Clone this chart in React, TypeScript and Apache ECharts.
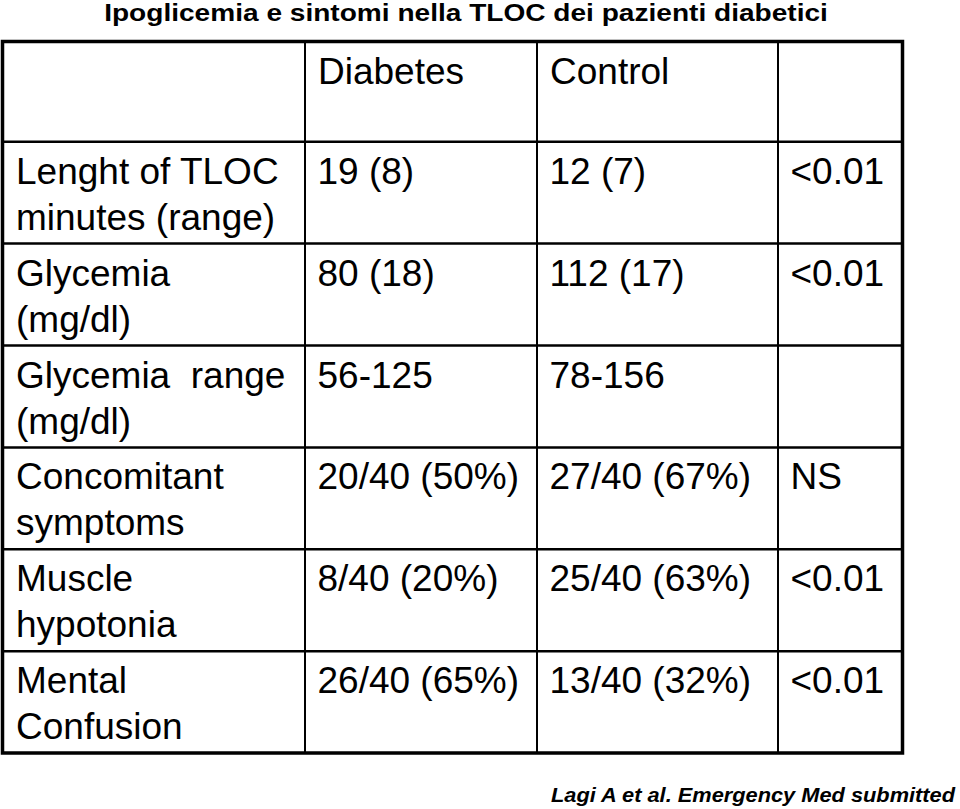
import React, { useEffect, useRef } from "react";
import * as echarts from "echarts";

const titleText = "Ipoglicemia e sintomi nella TLOC dei pazienti diabetici";
const footnote = "Lagi A et al. Emergency Med submitted";
const headers = ["", "Diabetes", "Control", ""];
const rowLabels = [
  ["Lenght of TLOC", "minutes (range)"],
  ["Glycemia", "(mg/dl)"],
  ["Glycemia  range", "(mg/dl)"],
  ["Concomitant", "symptoms"],
  ["Muscle", "hypotonia"],
  ["Mental", "Confusion"],
];
const diabetesValues = ["19 (8)", "80 (18)", "56-125", "20/40 (50%)", "8/40 (20%)", "26/40 (65%)"];
const controlValues = ["12 (7)", "112 (17)", "78-156", "27/40 (67%)", "25/40 (63%)", "13/40 (32%)"];
const pValues = ["<0.01", "<0.01", "", "NS", "<0.01", "<0.01"];

// layout
const colEdges = [2.5, 305, 537, 778, 902.5];
const tableTop = 41.5;
const headerBottom = 141.7;
const rowH = 101.9;
const FONT = "Liberation Sans, Arial, Helvetica, sans-serif";
const FS = 37;

export default function App() {
  const ref = useRef<HTMLDivElement>(null);
  useEffect(() => {
    if (!ref.current) return;
    const chart = echarts.init(ref.current, null, { renderer: "svg" });
    const elements: any[] = [];
    const nRows = rowLabels.length;
    const rowEdges = [tableTop, headerBottom];
    for (let i = 1; i <= nRows; i++) rowEdges.push(headerBottom + rowH * i);
    const tableBottom = rowEdges[rowEdges.length - 1];

    const txt = (x: number, y: number, s: string) => ({
      type: "text",
      x,
      y,
      style: {
        text: s,
        fill: "#000",
        font: `${FS}px ${FONT}`,
        textAlign: "left",
        textVerticalAlign: "middle",
      },
    });

    // header
    headers.forEach((h, c) => {
      if (h) elements.push(txt(colEdges[c] + 13, tableTop + 30, h));
    });
    // rows
    for (let r = 0; r < nRows; r++) {
      const top = rowEdges[r + 1];
      rowLabels[r].forEach((line, k) => elements.push(txt(colEdges[0] + 13.5, top + 29.5 + k * 46, line)));
      const cells = [diabetesValues[r], controlValues[r], pValues[r]];
      cells.forEach((v, c) => {
        if (v) elements.push(txt(colEdges[c + 1] + 12.5, top + 29.5, v));
      });
    }
    // inner horizontal lines
    for (let i = 1; i < rowEdges.length - 1; i++) {
      elements.push({
        type: "line",
        shape: { x1: colEdges[0], y1: rowEdges[i], x2: colEdges[colEdges.length - 1], y2: rowEdges[i] },
        style: { stroke: "#000", lineWidth: 2.5 },
      });
    }
    // inner vertical lines
    for (let c = 1; c < colEdges.length - 1; c++) {
      elements.push({
        type: "line",
        shape: { x1: colEdges[c], y1: tableTop, x2: colEdges[c], y2: tableBottom },
        style: { stroke: "#000", lineWidth: 2 },
      });
    }
    // outer border
    elements.push({
      type: "rect",
      shape: {
        x: colEdges[0],
        y: tableTop,
        width: colEdges[colEdges.length - 1] - colEdges[0],
        height: tableBottom - tableTop,
      },
      style: { fill: "none", stroke: "#000", lineWidth: 3.5 },
    });
    // title
    elements.push({
      type: "text",
      x: 466,
      y: 13,
      scaleX: 1.17,
      style: {
        text: titleText,
        fill: "#000",
        font: `bold 24px ${FONT}`,
        textAlign: "center",
        textVerticalAlign: "middle",
      },
    });
    // footnote
    elements.push({
      type: "text",
      x: 955,
      y: 795,
      scaleX: 1.09,
      style: {
        text: footnote,
        fill: "#000",
        font: `italic bold 20px ${FONT}`,
        textAlign: "right",
        textVerticalAlign: "middle",
      },
    });

    chart.setOption({
      animation: false,
      backgroundColor: "#fff",
      graphic: { elements },
    });
    return () => chart.dispose();
  }, []);
  return <div ref={ref} style={{ position: "absolute", left: 0, top: 0, width: 960, height: 809 }} />;
}
